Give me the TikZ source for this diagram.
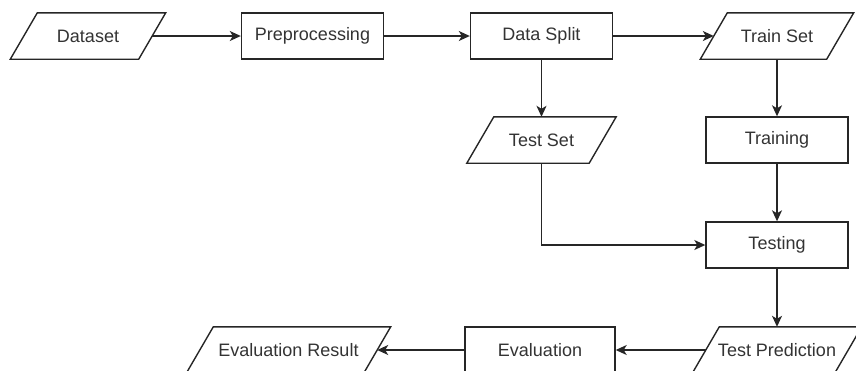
\documentclass[tikz,border=0pt]{standalone}
\usepackage{fontspec}
\setmainfont{Liberation Sans}
\usetikzlibrary{arrows.meta}

\begin{document}
\begin{tikzpicture}[x=1pt, y=-1pt,
    every node/.style={font=\fontsize{18}{21}\selectfont, text=black!80},
    procbox/.style={draw=black!85, line width=1.4pt, minimum width=142pt, minimum height=46pt, inner sep=0pt},
    databox/.style={minimum height=46pt, inner sep=0pt},
    dataline/.style={draw=black!85, line width=1.4pt, line join=miter},
    flow/.style={draw=black!85, -{Stealth[length=11pt, width=10pt, inset=3pt]}, line width=1.4pt}]
      \useasboundingbox (0,0) rectangle (856,370);
      \node[databox, minimum width=128pt] (dataset) at (88, 36){Dataset};
      \node[procbox] (prep) at (312.5, 36){Preprocessing};
      \node[procbox] (split) at (541.5, 36){Data Split};
      \node[databox, minimum width=126pt] (trainset) at (777, 36){Train Set};
      \node[databox, minimum width=122pt] (testset) at (541.5, 140){Test Set};
      \node[procbox] (training) at (777, 140){Training};
      \node[procbox] (testing) at (777, 245){Testing};
      \node[databox, minimum width=142pt] (testpred) at (777, 350){Test Prediction};
      \node[procbox, minimum width=150pt] (eval) at (540, 350){Evaluation};
      \node[databox, minimum width=177pt] (evalres) at (288.5, 350){Evaluation Result};

      \foreach \n in {dataset, trainset, testset, testpred, evalres}
        \draw[dataline] ([xshift=13.5pt]\n.north west) -- ([xshift=13.5pt]\n.north east)
          -- ([xshift=-13.5pt]\n.south east) -- ([xshift=-13.5pt]\n.south west) -- cycle;

      \draw[flow] (dataset) -- (prep);
      \draw[flow] (prep) -- (split);
      \draw[flow] (split) -- (trainset);
      \draw[flow] (split) -- (testset);
      \draw[flow] (trainset) -- (training);
      \draw[flow] (training) -- (testing);
      \draw[flow] (testset) |- (testing);
      \draw[flow] (testing) -- (testpred);
      \draw[flow] (testpred) -- (eval);
      \draw[flow] (eval) -- (evalres);
    \end{tikzpicture}
\end{document}
